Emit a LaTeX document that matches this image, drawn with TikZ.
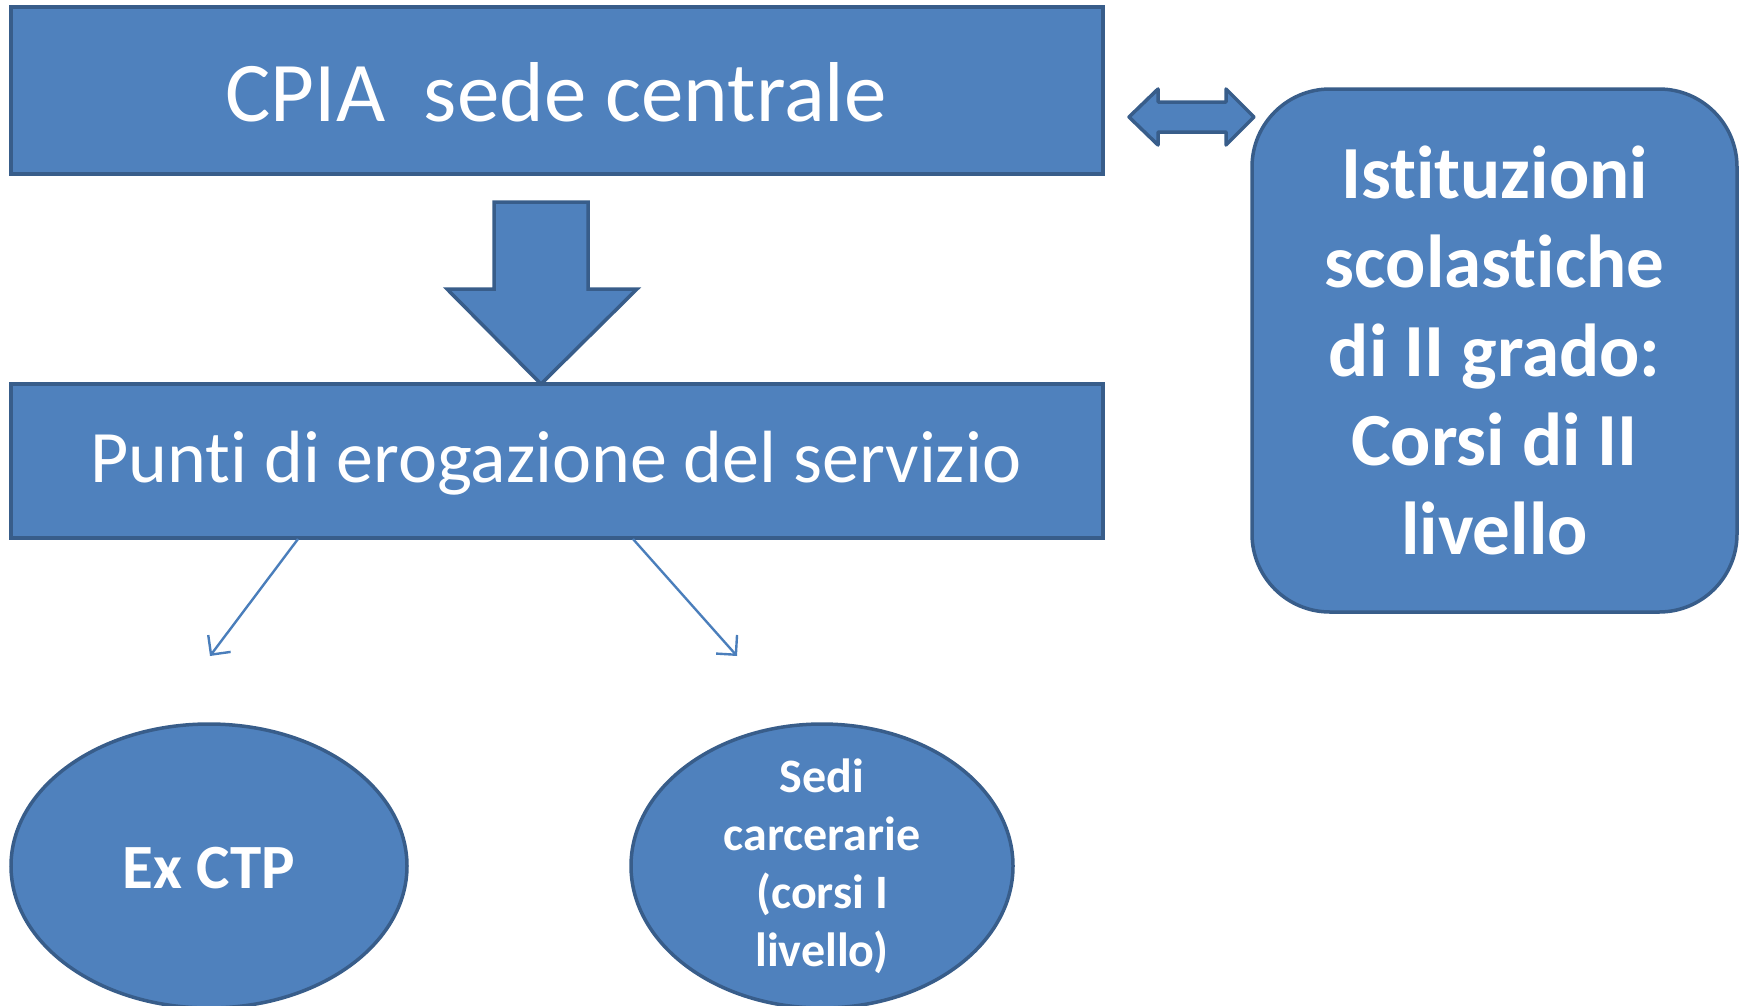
\documentclass[tikz,border=0pt]{standalone}
\usepackage{fontspec}
\setmainfont{Carlito}[Ligatures={NoCommon}]
\usetikzlibrary{shapes.geometric,arrows.meta}
\definecolor{boxfill}{HTML}{4F81BD}
\definecolor{boxline}{HTML}{385D8A}
\definecolor{thinline}{HTML}{4A7EBB}
\begin{document}
\begin{tikzpicture}[x=1pt,y=-1pt,
  blockbox/.style={draw=boxline,fill=boxfill,line width=3.5pt,rectangle,inner sep=0pt,text=white},
  ovalbox/.style={draw=boxline,fill=boxfill,line width=3.5pt,ellipse,inner sep=0pt},
  labeltext/.style={text=white,inner sep=0pt,align=center},
  blockarrow/.style={draw=boxline,fill=boxfill,line width=3.5pt,line join=miter},
  thinarrow/.style={draw=thinline,line width=2.4pt,-{Straight Barb[length=14pt,width=28pt]}}]
\useasboundingbox (0,0) rectangle (1742,1005);
% top box
\node[blockbox,minimum width=1092pt,minimum height=167pt] (cpia) at (557,90.5) {};
\node[labeltext,font=\fontsize{85}{100}\selectfont] (cpiatext) at (556,92) {CPIA\ \ sede centrale};
% middle box
\node[blockbox,minimum width=1092pt,minimum height=154pt] (punti) at (557,461) {};
\node[labeltext,font=\fontsize{74}{90}\selectfont] (puntitext) at (556,463) {Punti di erogazione del servizio};
% right box
\node[blockbox,rounded corners=78pt,minimum width=485pt,minimum height=523pt,align=center,
  font={\fontsize{75}{89}\selectfont\bfseries}] (ist) at (1494.5,350.5)
  {Istituzioni\\scolastiche\\di II grado:\\Corsi di II\\livello};
% ellipses
\node[ovalbox,minimum width=396pt,minimum height=284pt] (exctp) at (209,866) {};
\node[labeltext,font={\fontsize{63}{70}\selectfont\bfseries}] (exctptext) at (209,868) {Ex CTP};
\node[ovalbox,minimum width=382pt,minimum height=284pt] (sedi) at (822,866) {};
\node[labeltext,font={\fontsize{48}{58}\selectfont\bfseries}] (seditext) at (822,866)
  {Sedi\\carcerarie\\(corsi I\\livello)};
% down block arrow
\draw[blockarrow] (494,202) -- (588,202) -- (588,289) -- (637,289) -- (541,384) -- (447,289) -- (494,289) -- cycle;
% double block arrow
\draw[blockarrow,line join=round] (1129,117) -- (1158,89) -- (1158,102) -- (1226,102) -- (1226,89) -- (1254,117)
  -- (1226,145) -- (1226,132) -- (1158,132) -- (1158,145) -- cycle;
% thin arrows
\coordinate (p1) at (298,539);
\coordinate (p2) at (633,539);
\coordinate (e1) at (210,656);
\coordinate (e2) at (737,656);
\draw[thinarrow] (p1) -- (e1);
\draw[thinarrow] (p2) -- (e2);
\end{tikzpicture}
\end{document}
